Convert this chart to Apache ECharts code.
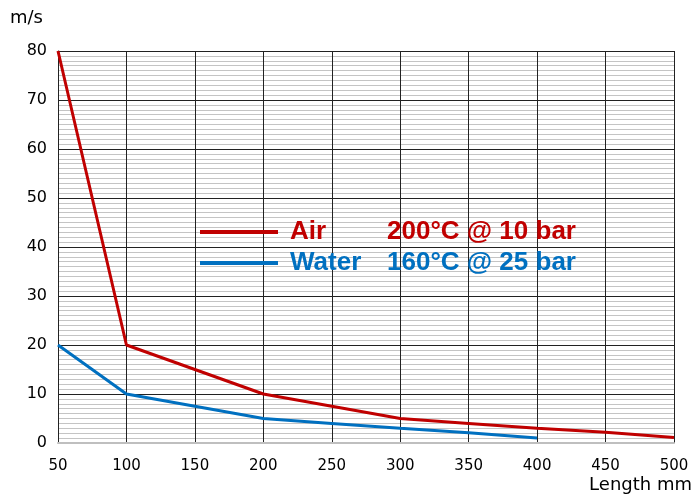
<!DOCTYPE html>
<html>
<head>
	<meta charset="utf-8">
	<title></title>
	<script src="https://cdn.jsdelivr.net/npm/echarts@6/dist/echarts.min.js"></script>
	<style>body{margin:0;background:#fff;}</style>
</head>
<body>
	<div id="main" style="width: 695px;height:497px;"></div>
	<script type="text/javascript">
		// 数据
		var lengths = [50, 100, 150, 200, 250, 300, 350, 400, 450, 500];
		var airSpeed = [80, 20, 15, 10, 7.5, 5, 4, 3, 2.2, 1.1];
		var waterSpeed = [20, 10, 7.5, 5, 4, 3, 2.1, 1];

		function pairs(xs, ys) {
			var out = [];
			for (var i = 0; i < ys.length; i++) {
				out.push([xs[i], ys[i]]);
			}
			return out;
		}

		var myChart = echarts.init(document.getElementById('main'));

		var font = 'Liberation Sans, Arial, sans-serif';
		var wide = 'DejaVu Sans, Verdana, sans-serif';

		var option = {
			animation: false,
			grid: { left: 58, right: 20, top: 51, bottom: 54 },
			legend: {
				orient: 'vertical',
				left: 195,
				top: 214,
				itemWidth: 78,
				itemHeight: 4,
				itemGap: 5,
				icon: 'rect',
				data: [
					{ name: 'Air', textStyle: { color: '#c00000' } },
					{ name: 'Water', textStyle: { color: '#0070c0' } }
				],
				formatter: function (name) {
					if (name === 'Air') return '{n|Air}{d|200°C @ 10 bar}';
					return '{n|Water}{d|160°C @ 25 bar}';
				},
				textStyle: {
					fontFamily: font,
					fontWeight: 'bold',
					fontSize: 26,
					rich: {
						n: { width: 97, padding: [0, 0, 0, 7], fontFamily: font, fontWeight: 'bold', fontSize: 26 },
						d: { fontFamily: font, fontWeight: 'bold', fontSize: 26 }
					}
				}
			},
			xAxis: {
				type: 'value',
				min: 50,
				max: 500,
				interval: 50,
				name: 'Length mm',
				nameLocation: 'end',
				nameGap: 18,
				nameTextStyle: {
					fontFamily: wide, fontSize: 18, color: '#000',
					align: 'right', verticalAlign: 'top', padding: [33, 0, 0, 0]
				},
				axisLine: { lineStyle: { color: '#bfbfbf', width: 2 } },
				axisTick: { show: false },
				axisLabel: { fontFamily: wide, fontSize: 15, color: '#000', margin: 16 },
				splitLine: { show: true, lineStyle: { color: '#222', width: 1 } }
			},
			yAxis: {
				type: 'value',
				min: 0,
				max: 80,
				interval: 10,
				name: 'm/s',
				nameLocation: 'end',
				nameGap: 24,
				nameTextStyle: { fontFamily: wide, fontSize: 18, color: '#000', align: 'right', padding: [0, 15, 0, 0] },
				axisLine: { show: true, lineStyle: { color: '#222', width: 1 } },
				axisTick: { show: false },
				axisLabel: { fontFamily: wide, fontSize: 16, color: '#000', margin: 11 },
				splitLine: { show: true, lineStyle: { color: '#222', width: 1 } },
				minorTick: { show: false, splitNumber: 10 },
				minorSplitLine: { show: true, lineStyle: { color: '#c4c4c4', width: 1 } }
			},
			series: [
				{
					name: 'Air',
					type: 'line',
					symbol: 'none',
					data: pairs(lengths, airSpeed),
					lineStyle: { color: '#c00000', width: 3 },
					itemStyle: { color: '#c00000' },
					z: 3
				},
				{
					name: 'Water',
					type: 'line',
					symbol: 'none',
					data: pairs(lengths, waterSpeed),
					lineStyle: { color: '#0070c0', width: 3 },
					itemStyle: { color: '#0070c0' },
					z: 3
				}
			]
		};

		myChart.setOption(option);
	</script>
</body>
</html>
